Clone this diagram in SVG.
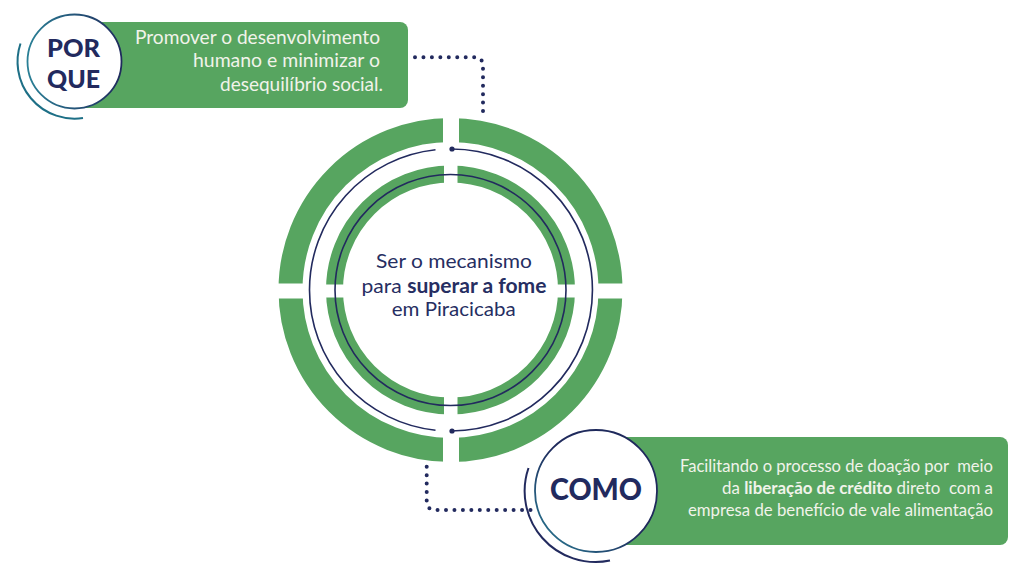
<svg xmlns="http://www.w3.org/2000/svg" width="1034" height="568" viewBox="0 0 1034 568">
<style>
.box{fill:#57a560}
.ring{fill:none;stroke:#57a560}
.thin{fill:none;stroke:#222a5e;stroke-width:1.6}
.dots{fill:none;stroke:#222a5e;stroke-width:4;stroke-linecap:round;stroke-dasharray:0 8.45}
.lbl{font-family:Lato,"Open Sans",sans-serif;font-weight:900;fill:#222a5e;text-anchor:middle}
.btxt{font-family:Lato,"Open Sans",sans-serif;fill:#f1f3ea;text-anchor:end;white-space:pre}
.ctxt{font-family:Lato,"Open Sans",sans-serif;fill:#262e62;text-anchor:middle;font-size:20px}
.b{font-weight:700}
</style>
<defs>
<mask id="cutOuter" maskUnits="userSpaceOnUse" x="0" y="0" width="1034" height="568">
<rect x="0" y="0" width="1034" height="568" fill="#fff"/>
<rect x="443" y="100" width="16" height="380" fill="#000"/>
<rect x="260" y="283.5" width="380" height="15" fill="#000"/>
</mask>
<mask id="cutInner" maskUnits="userSpaceOnUse" x="0" y="0" width="1034" height="568">
<rect x="0" y="0" width="1034" height="568" fill="#fff"/>
<rect x="444" y="100" width="13.5" height="380" fill="#000"/>
<rect x="260" y="284.5" width="380" height="13" fill="#000"/>
</mask>
<linearGradient id="gPQ" x1="0" y1="0" x2="1" y2="0">
<stop offset="0" stop-color="#2a8096"/>
<stop offset="1" stop-color="#1f2a5c"/>
</linearGradient>
<linearGradient id="gCM" x1="0" y1="1" x2="1" y2="0">
<stop offset="0" stop-color="#2a8096"/>
<stop offset="0.5" stop-color="#1f2a5c"/>
<stop offset="1" stop-color="#1f2a5c"/>
</linearGradient>
</defs>

<g id="connectors">
<path class="dots" d="M415 57.3 H474 Q483 57.3 483 66 V114.7"/>
<path class="dots" d="M426.7 466.7 V501 Q426.7 510 435.5 510 H532"/>
</g>

<g id="center">
<circle class="ring" cx="450.5" cy="290" r="160" stroke-width="24" mask="url(#cutOuter)"/>
<circle class="ring" cx="450.5" cy="290" r="116" stroke-width="17" mask="url(#cutInner)"/>
<path class="thin" d="M451.5 149 A141 141 0 0 1 451.5 431"/>
<path class="thin" d="M435.5 149.8 A141 141 0 0 0 435.5 430.2"/>
<circle cx="452" cy="149" r="2.6" fill="#222a5e"/>
<circle cx="452" cy="431" r="2.6" fill="#222a5e"/>
<circle class="thin" cx="450.5" cy="290" r="115.5" stroke-width="1.4"/>
<text class="ctxt" x="454" y="268" textLength="156" lengthAdjust="spacingAndGlyphs">Ser o mecanismo</text>
<text class="ctxt" x="454" y="293.3" textLength="185" lengthAdjust="spacingAndGlyphs">para <tspan class="b">superar a fome</tspan></text>
<text class="ctxt" x="453.7" y="316" textLength="124" lengthAdjust="spacingAndGlyphs">em Piracicaba</text>
</g>

<g id="porque">
<rect class="box" x="75" y="22" width="333" height="86" rx="8"/>
<path d="M20.5 43.5 A57 57 0 0 0 83 118" fill="none" stroke="#1d6f86" stroke-width="2"/>
<circle cx="74.5" cy="61.5" r="47" fill="#fff" stroke="url(#gPQ)" stroke-width="1.8"/>
<text class="lbl" x="73.5" y="57" font-size="25" textLength="53" lengthAdjust="spacingAndGlyphs">POR</text>
<text class="lbl" x="73.5" y="88" font-size="25" textLength="53" lengthAdjust="spacingAndGlyphs">QUE</text>
<text class="btxt" x="380" y="44" font-size="19" textLength="245" lengthAdjust="spacingAndGlyphs">Promover o desenvolvimento</text>
<text class="btxt" x="380" y="66.7" font-size="19" textLength="187" lengthAdjust="spacingAndGlyphs">humano e minimizar o</text>
<text class="btxt" x="383" y="90.7" font-size="19" textLength="163" lengthAdjust="spacingAndGlyphs">desequilíbrio social.</text>
</g>

<g id="como">
<rect class="box" x="598" y="437" width="410" height="108" rx="8"/>
<path d="M528.5 468 A71 71 0 0 0 610 560.6" fill="none" stroke="#222a5e" stroke-width="2"/>
<circle cx="596" cy="491" r="61" fill="#fff" stroke="url(#gCM)" stroke-width="1.8"/>
<text class="lbl" x="596" y="500" font-size="31" textLength="92" lengthAdjust="spacingAndGlyphs">COMO</text>
<text class="btxt" x="993" y="471.7" font-size="17.5" textLength="313" lengthAdjust="spacingAndGlyphs">Facilitando o processo de doação por  meio</text>
<text class="btxt" x="993" y="494" font-size="17.5" textLength="271" lengthAdjust="spacingAndGlyphs">da <tspan class="b">liberação de crédito</tspan> direto  com a</text>
<text class="btxt" x="993" y="515.7" font-size="17.5" textLength="305" lengthAdjust="spacingAndGlyphs">empresa de benefício de vale alimentação</text>
</g>
</svg>
